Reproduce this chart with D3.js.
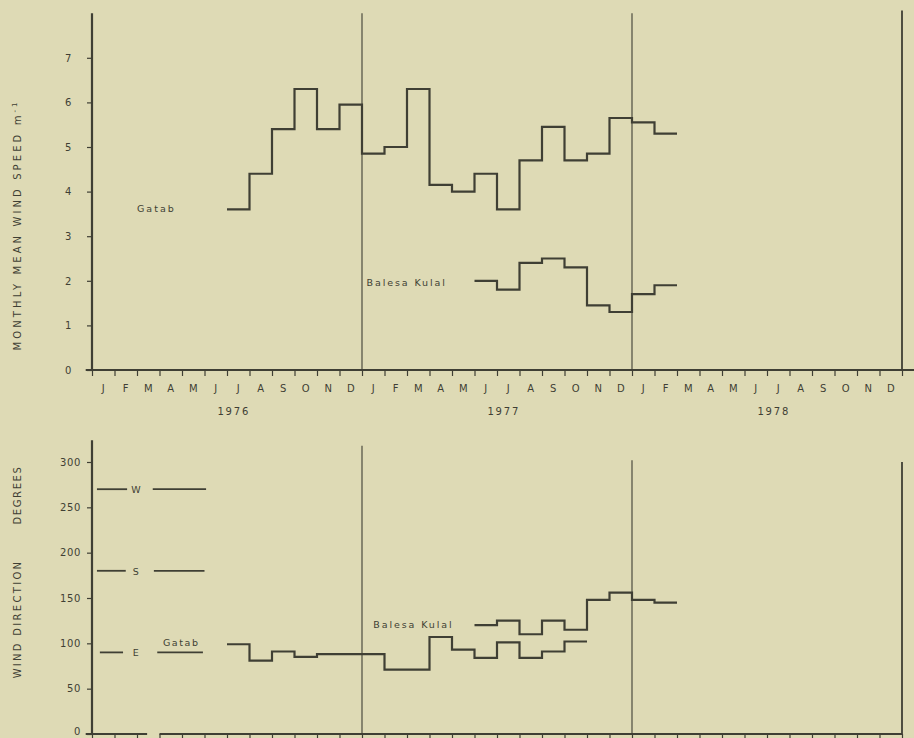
<!DOCTYPE html>
<html>
<head>
<meta charset="utf-8">
<script src="https://cdn.jsdelivr.net/npm/d3@7"></script>
<style>
  html, body { margin: 0; padding: 0; background: #dedab5; }
  svg { display: block; }
  text { font-family: "DejaVu Sans", "Liberation Sans", sans-serif; fill: #3f3f34; }
</style>
</head>
<body>
<svg id="chart" width="914" height="738"></svg>
<script>
// Month / year labels along the time axis (Jan 1976 – Dec 1978)
const monthLetters = ["J","F","M","A","M","J","J","A","S","O","N","D"];
const years = ["1976", "1977", "1978"];

// Monthly mean wind speed (m s-1)
const gatabSpeedStart = "1976-07";
const gatabSpeed = [3.6, 4.4, 5.4, 6.3, 5.4, 5.95, 4.85, 5.0, 6.3, 4.15, 4.0, 4.4,
                    3.6, 4.7, 5.45, 4.7, 4.85, 5.65, 5.55, 5.3];
const balesaSpeedStart = "1977-06";
const balesaSpeed = [2.0, 1.8, 2.4, 2.5, 2.3, 1.45, 1.3, 1.7, 1.9];

// Monthly mean wind direction (degrees)
const gatabDirStart = "1976-07";
const gatabDir = [99, 81, 91, 85, 88, 88, 88, 71, 71, 107, 93, 84, 101, 84, 91, 102];
const balesaDirStart = "1977-06";
const balesaDir = [120, 125, 110, 125, 115, 148, 156, 148, 145];

// Compass reference levels
const compassNames = ["W", "S", "E"];
const compassDegrees = [270, 180, 90];

const speedTicks = [0, 1, 2, 3, 4, 5, 6, 7];
const dirTicks = [0, 50, 100, 150, 200, 250, 300];

const ink = "#3f3f34";
const svg = d3.select("#chart");

const monthIndex = s => {
  const [y, m] = s.split("-").map(Number);
  return (y - 1976) * 12 + (m - 1);
};

// Shared horizontal scale, in months since Jan 1976
const x = d3.scaleLinear().domain([0, 36]).range([92, 902]);
const ySpeed = d3.scaleLinear().domain([0, 7]).range([370, 57.8]);
const yDir = d3.scaleLinear().domain([0, 300]).range([734, 462]);

const stepLine = (yScale) => d3.line()
  .x(d => x(d[0])).y(d => yScale(d[1]))
  .curve(d3.curveStepAfter);

function stepPoints(start, values) {
  const s = monthIndex(start);
  const pts = values.map((v, i) => [s + i, v]);
  pts.push([s + values.length, values[values.length - 1]]);
  return pts;
}

function drawPanel(yScale, ticks, opts) {
  const g = svg.append("g");

  // month-boundary ticks along the time axis
  const xAxis = d3.axisBottom(x)
    .tickValues(d3.range(0, 37))
    .tickSize(6)
    .tickFormat("");
  const ga = g.append("g")
    .attr("transform", `translate(0,${yScale(0)})`)
    .call(xAxis);
  ga.select(".domain").remove();
  ga.selectAll("line").attr("stroke", ink).attr("stroke-width", 1.2);

  // base line (with an optional break)
  opts.baseSegments.forEach(([a, b]) => {
    g.append("line")
      .attr("x1", x(a)).attr("x2", x(b))
      .attr("y1", yScale(0)).attr("y2", yScale(0))
      .attr("stroke", ink).attr("stroke-width", 2);
  });

  // vertical axis
  const yAxis = d3.axisLeft(yScale)
    .tickValues(ticks)
    .tickFormat(d3.format("d"))
    .tickSize(5)
    .tickPadding(opts.tickPad);
  const gy = g.append("g").attr("transform", `translate(${x(0)},0)`).call(yAxis);
  gy.select(".domain").remove();
  gy.selectAll("line").attr("stroke", ink).attr("stroke-width", 1.2);
  gy.selectAll("text")
    .style("font-family", "'DejaVu Sans', sans-serif")
    .style("font-size", "10px")
    .style("letter-spacing", "0.6px")
    .attr("fill", ink);
  // keep the lowest label inside the page
  gy.selectAll(".tick").filter(d => d === 0).select("text").attr("dy", opts.zeroDy);

  g.append("line")
    .attr("x1", x(0)).attr("x2", x(0))
    .attr("y1", yScale(opts.axisTop)).attr("y2", yScale(0))
    .attr("stroke", ink).attr("stroke-width", 2.2);

  // year separators
  opts.separators.forEach(([m, top, w]) => {
    g.append("line")
      .attr("x1", x(m)).attr("x2", x(m))
      .attr("y1", yScale(top)).attr("y2", yScale(0))
      .attr("stroke", ink).attr("stroke-width", w);
  });
  return g;
}

// ---------- upper panel: wind speed ----------
const speedPanel = drawPanel(ySpeed, speedTicks, {
  axisTop: 8.0,
  tickPad: 15,
  zeroDy: "0.32em",
  baseSegments: [[-0.28, 36.6]],
  separators: [[12, 8.0, 1.1], [24, 8.0, 1.1], [36, 8.06, 1.8]]
});

// month letters and year labels
const monthCenters = d3.range(36);
speedPanel.append("g").selectAll("text")
  .data(monthCenters)
  .join("text")
  .attr("x", d => x(d + 0.5))
  .attr("y", 392)
  .attr("text-anchor", "middle")
  .style("font-size", "10px")
  .text(d => monthLetters[d % 12]);

speedPanel.append("g").selectAll("text")
  .data(years)
  .join("text")
  .attr("x", (d, i) => x(i * 12 + 6.3))
  .attr("y", 415)
  .attr("text-anchor", "middle")
  .style("font-size", "10px")
  .style("letter-spacing", "1.8px")
  .text(d => d);

speedPanel.append("path")
  .datum(stepPoints(gatabSpeedStart, gatabSpeed))
  .attr("d", stepLine(ySpeed))
  .attr("fill", "none").attr("stroke", ink).attr("stroke-width", 2.2);

speedPanel.append("path")
  .datum(stepPoints(balesaSpeedStart, balesaSpeed))
  .attr("d", stepLine(ySpeed))
  .attr("fill", "none").attr("stroke", ink).attr("stroke-width", 2.2);

speedPanel.append("text")
  .attr("x", x(2.0)).attr("y", ySpeed(3.6) + 3)
  .style("font-size", "9.5px").style("letter-spacing", "2px")
  .text("Gatab");

speedPanel.append("text")
  .attr("x", x(12.2)).attr("y", ySpeed(1.95) + 3)
  .style("font-size", "9.5px").style("letter-spacing", "1.9px")
  .text("Balesa Kulal");

const speedTitle = speedPanel.append("text")
  .attr("transform", `translate(21,${(ySpeed(0) + ySpeed(7)) / 2 + 11}) rotate(-90)`)
  .attr("text-anchor", "middle")
  .style("font-size", "10px")
  .style("letter-spacing", "3.1px");
speedTitle.append("tspan").text("MONTHLY MEAN WIND SPEED m");
speedTitle.append("tspan").attr("dy", -4).style("font-size", "7px").text("-1");

// ---------- lower panel: wind direction ----------
const dirPanel = drawPanel(yDir, dirTicks, {
  axisTop: 324,
  tickPad: 6,
  zeroDy: "0.05em",
  baseSegments: [[-0.28, 2.45], [3.0, 36]],
  separators: [[12, 318, 1.1], [24, 302, 1.1], [36, 300, 1.8]]
});

// compass reference lines
const compassLeft = [[0.22, 1.56], [0.22, 1.5], [0.35, 1.38]];
const compassRight = [[2.7, 5.07], [2.75, 5.0], [2.9, 4.93]];
compassNames.forEach((name, i) => {
  const yy = yDir(compassDegrees[i]);
  [compassLeft[i], compassRight[i]].forEach(([a, b]) => {
    dirPanel.append("line")
      .attr("x1", x(a)).attr("x2", x(b))
      .attr("y1", yy).attr("y2", yy)
      .attr("stroke", ink).attr("stroke-width", 1.8);
  });
  dirPanel.append("text")
    .attr("x", x(1.95)).attr("y", yy + 4)
    .attr("text-anchor", "middle")
    .style("font-size", "9.5px")
    .text(name);
});

dirPanel.append("text")
  .attr("x", x(3.15)).attr("y", yDir(90) - 6)
  .style("font-size", "9.5px").style("letter-spacing", "1.6px")
  .text("Gatab");

dirPanel.append("path")
  .datum(stepPoints(gatabDirStart, gatabDir))
  .attr("d", stepLine(yDir))
  .attr("fill", "none").attr("stroke", ink).attr("stroke-width", 2.2);

dirPanel.append("path")
  .datum(stepPoints(balesaDirStart, balesaDir))
  .attr("d", stepLine(yDir))
  .attr("fill", "none").attr("stroke", ink).attr("stroke-width", 2.2);

dirPanel.append("text")
  .attr("x", x(12.5)).attr("y", yDir(120) + 3)
  .style("font-size", "9.5px").style("letter-spacing", "1.9px")
  .text("Balesa Kulal");

// two-part vertical title of the direction panel
const dirTitleParts = [["WIND DIRECTION", 2.3, 619], ["DEGREES", 1.6, 495]];
dirTitleParts.forEach(([label, spacing, cy]) => {
  dirPanel.append("text")
    .attr("transform", `translate(21,${cy}) rotate(-90)`)
    .attr("text-anchor", "middle")
    .style("font-size", "10px")
    .style("letter-spacing", `${spacing}px`)
    .text(label);
});
</script>
</body>
</html>
